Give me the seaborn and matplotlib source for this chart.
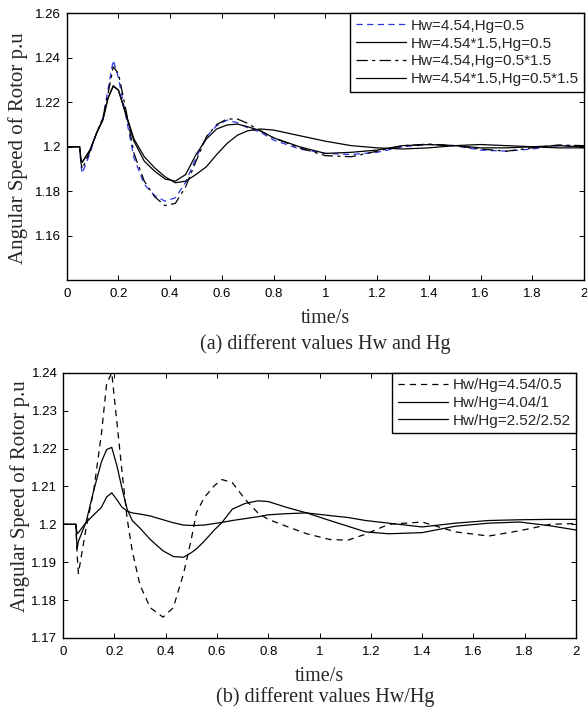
import numpy as np
import pandas as pd
import matplotlib
matplotlib.use("Agg")
import matplotlib.pyplot as plt
import seaborn as sns

# ---------------- data: panel (a) ----------------
time_a = [0, 0.05, 0.055, 0.06, 0.09, 0.115, 0.14, 0.16, 0.18, 0.2, 0.23, 0.26, 0.3,
          0.34, 0.38, 0.42, 0.46, 0.5, 0.54, 0.58, 0.62, 0.66, 0.7, 0.75, 0.8, 0.9,
          1.0, 1.1, 1.2, 1.3, 1.4, 1.5, 1.6, 1.7, 1.8, 1.9, 2.0]
speed_a1 = [1.2, 1.2, 1.192, 1.188, 1.197, 1.206, 1.213, 1.226, 1.239, 1.231, 1.213, 1.195, 1.183,
            1.178, 1.1755, 1.177, 1.184, 1.195, 1.2045, 1.2095, 1.212, 1.2108, 1.2085, 1.2065, 1.203, 1.199,
            1.197, 1.1965, 1.1975, 1.2, 1.201, 1.2005, 1.1985, 1.198, 1.199, 1.2005, 1.2]
speed_a2 = [1.2, 1.2, 1.194, 1.193, 1.1985, 1.206, 1.212, 1.222, 1.2275, 1.2255, 1.214, 1.2025, 1.1935,
            1.189, 1.1855, 1.1845, 1.1875, 1.1965, 1.2035, 1.208, 1.2098, 1.2102, 1.209, 1.2072, 1.204, 1.2,
            1.197, 1.1975, 1.1985, 1.2005, 1.201, 1.2005, 1.1995, 1.1995, 1.2, 1.2005, 1.2]
speed_a3 = [1.2, 1.2, 1.193, 1.19, 1.198, 1.206, 1.213, 1.224, 1.236, 1.233, 1.216, 1.197, 1.1845,
            1.1775, 1.1735, 1.1745, 1.182, 1.1935, 1.2045, 1.21, 1.2125, 1.2125, 1.2105, 1.207, 1.204, 1.1995,
            1.196, 1.1955, 1.198, 1.2005, 1.2012, 1.2005, 1.199, 1.198, 1.1995, 1.2008, 1.2005]
speed_a4 = [1.2, 1.2, 1.194, 1.193, 1.1985, 1.206, 1.2125, 1.222, 1.2272, 1.2255, 1.2145, 1.2035, 1.1955,
            1.1905, 1.1865, 1.1838, 1.1845, 1.1875, 1.191, 1.1965, 1.2015, 1.2052, 1.2072, 1.208, 1.2075, 1.205,
            1.2025, 1.2005, 1.1995, 1.199, 1.1995, 1.2005, 1.201, 1.2005, 1.2, 1.1995, 1.1995]
labels_a = ["Hw=4.54,Hg=0.5", "Hw=4.54*1.5,Hg=0.5", "Hw=4.54,Hg=0.5*1.5", "Hw=4.54*1.5,Hg=0.5*1.5"]

# ---------------- data: panel (b) ----------------
time_b = [0, 0.05, 0.055, 0.06, 0.09, 0.12, 0.15, 0.17, 0.19, 0.21, 0.23, 0.25, 0.27, 0.3, 0.34,
          0.39, 0.43, 0.47, 0.5, 0.52, 0.55, 0.59, 0.62, 0.66, 0.71, 0.76, 0.8, 0.87, 0.95, 1.04,
          1.11, 1.18, 1.27, 1.4, 1.53, 1.66, 1.78, 1.9, 2.0]
speed_b1 = [1.2, 1.2, 1.192, 1.187, 1.199, 1.209, 1.224, 1.237, 1.24, 1.227, 1.214, 1.2015, 1.193, 1.184, 1.178,
            1.1755, 1.178, 1.187, 1.196, 1.203, 1.207, 1.2102, 1.2118, 1.211, 1.2066, 1.203, 1.2013, 1.1995, 1.1975, 1.196,
            1.1958, 1.1974, 1.2, 1.2006, 1.198, 1.1969, 1.1983, 1.2, 1.2002]
speed_b2 = [1.2, 1.2, 1.1935, 1.1955, 1.2006, 1.209, 1.2165, 1.2197, 1.2203, 1.2155, 1.2095, 1.204, 1.201, 1.199, 1.196,
            1.193, 1.1915, 1.1913, 1.1925, 1.1935, 1.1955, 1.1985, 1.2005, 1.204, 1.2055, 1.2062, 1.206, 1.2045, 1.203, 1.201,
            1.1995, 1.198, 1.1975, 1.1978, 1.1995, 1.2003, 1.2006, 1.1996, 1.1985]
speed_b3 = [1.2, 1.2, 1.1975, 1.1978, 1.2005, 1.2025, 1.2045, 1.2072, 1.2083, 1.2065, 1.2045, 1.2035, 1.203, 1.2027, 1.2022,
            1.2012, 1.2004, 1.1998, 1.1997, 1.1997, 1.1998, 1.2002, 1.2005, 1.201, 1.2015, 1.202, 1.2025, 1.2028, 1.203, 1.2023,
            1.2018, 1.201, 1.2003, 1.1993, 1.2003, 1.201, 1.2012, 1.2013, 1.2013]
labels_b = ["Hw/Hg=4.54/0.5", "Hw/Hg=4.04/1", "Hw/Hg=2.52/2.52"]

xticks = [0, 0.2, 0.4, 0.6, 0.8, 1.0, 1.2, 1.4, 1.6, 1.8, 2.0]
xticklabels = ["0", "0.2", "0.4", "0.6", "0.8", "1", "1.2", "1.4", "1.6", "1.8", "2"]
yticks_a = [1.16, 1.18, 1.2, 1.22, 1.24, 1.26]
yticklabels_a = ["1.16", "1.18", "1.2", "1.22", "1.24", "1.26"]
yticks_b = [1.17, 1.18, 1.19, 1.2, 1.21, 1.22, 1.23, 1.24]
yticklabels_b = ["1.17", "1.18", "1.19", "1.2", "1.21", "1.22", "1.23", "1.24"]

ylabel = "Angular Speed of Rotor p.u"
xlabel = "time/s"
caption_a = "(a) different values Hw and Hg"
caption_b = "(b) different values Hw/Hg"

# ---------------- figure ----------------
sns.set_style("ticks")
plt.rcParams["font.family"] = ["Liberation Sans", "DejaVu Sans"]

W, H = 587, 711
fig = plt.figure(figsize=(W / 100, H / 100), dpi=100)

def px_axes(left, top, right, bottom):
    return fig.add_axes([left / W, 1 - bottom / H, (right - left) / W, (bottom - top) / H])

ax1 = px_axes(66.7, 13.5, 584, 280)
ax2 = px_axes(63, 372.7, 576, 638)

serif = ["Liberation Serif", "DejaVu Serif"]
blue = "#2a35e8"

styles_a = [
    dict(color=blue, linestyle=(0, (5, 3.5))),
    dict(color="black", linestyle="-"),
    dict(color="black", linestyle=(0, (9, 3.5, 2.5, 3.5))),
    dict(color="black", linestyle="-"),
]
for vals, lab, st in zip([speed_a1, speed_a2, speed_a3, speed_a4], labels_a, styles_a):
    sns.lineplot(x=time_a, y=vals, ax=ax1, label=lab, linewidth=0.9, **st)

styles_b = [
    dict(color="black", linestyle=(0, (5, 4))),
    dict(color="black", linestyle="-"),
    dict(color="black", linestyle="-"),
]
for vals, lab, st in zip([speed_b1, speed_b2, speed_b3], labels_b, styles_b):
    sns.lineplot(x=time_b, y=vals, ax=ax2, label=lab, linewidth=0.9, **st)

for ax, yt, ytl, ylim in [(ax1, yticks_a, yticklabels_a, (1.14, 1.26)),
                          (ax2, yticks_b, yticklabels_b, (1.17, 1.24))]:
    ax.set_xlim(0, 2)
    ax.set_ylim(*ylim)
    ax.set_xticks(xticks)
    ax.set_xticklabels(xticklabels)
    ax.set_yticks(yt)
    ax.set_yticklabels(ytl)
    ax.tick_params(direction="in", length=3.5, width=0.7, top=True, right=True,
                   labelsize=9.5, colors="black")
    ax.tick_params(axis="x", pad=6)
    ax.tick_params(axis="y", pad=4)
    for s in ax.spines.values():
        s.set_visible(True)
        s.set_linewidth(1.0)
        s.set_color("black")
    ax.set_xlabel(xlabel, fontfamily=serif, fontsize=14.5, labelpad=6)
    ax.set_ylabel(ylabel, fontfamily=serif, fontsize=15)
    leg = ax.legend(loc="upper right", borderaxespad=0, fontsize=11, handlelength=3.3,
                    handletextpad=0.3, labelspacing=0.25, borderpad=0.35, fancybox=False,
                    framealpha=1, edgecolor="black")
    leg.get_frame().set_linewidth(1.0)

ax1.yaxis.set_label_coords(-0.075, 0.493)
ax2.yaxis.set_label_coords(-0.064, 0.533)

fig.text(325 / W, 1 - 343.7 / H, caption_a, fontfamily=serif, fontsize=14.5, ha="center", va="center")
fig.text(325 / W, 1 - 697 / H, caption_b, fontfamily=serif, fontsize=14.5, ha="center", va="center")

fig.savefig("out.png", dpi=100)
